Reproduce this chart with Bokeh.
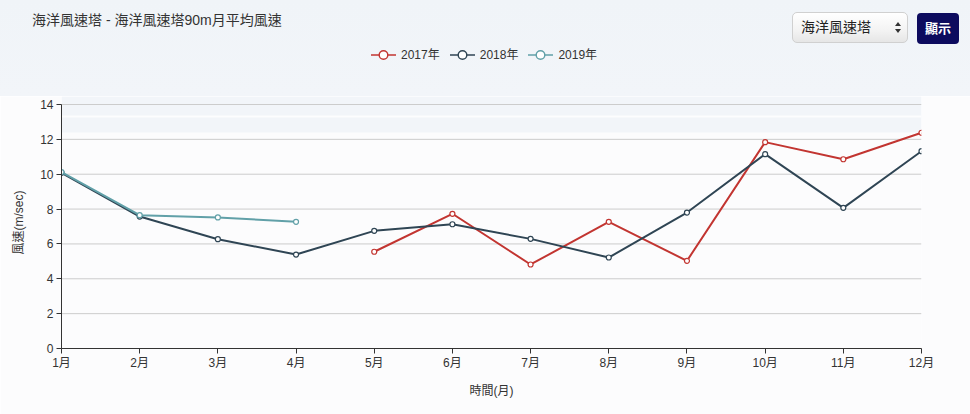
import numpy as np
from bokeh.plotting import figure
from bokeh.layouts import column
from bokeh.models import (Range1d, FixedTicker, BoxAnnotation, ColumnDataSource, Div)
from bokeh.embed import file_html
from bokeh.resources import INLINE

# ---------------- data ----------------
months = list(range(1, 13))
month_labels = [f"{m}月" for m in months]
y_ticks = [0, 2, 4, 6, 8, 10, 12, 14]
series_names = ["2017年", "2018年", "2019年"]
values_2017 = [None, None, None, None, 5.55, 7.73, 4.82, 7.27, 5.03, 11.84, 10.86, 12.38]
values_2018 = [10.08, 7.57, 6.27, 5.39, 6.75, 7.13, 6.29, 5.22, 7.80, 11.15, 8.07, 11.32]
values_2019 = [10.12, 7.65, 7.52, 7.27, None, None, None, None, None, None, None, None]
colors = ["#c23531", "#2f4554", "#61a0a8"]

title_text = "海洋風速塔 - 海洋風速塔90m月平均風速"
x_title = "時間(月)"
y_title = "風速(m/sec)"
select_text = "海洋風速塔"
button_text = "顯示"

FONT = "Liberation Sans, Noto Sans CJK TC"
CSS_FONT = "'Liberation Sans', 'Noto Sans CJK TC', sans-serif"
BAND = "#f2f5f9"
PAPER = "#fcfcfd"

W = 970
HEADER_H = 96

# ---------------- header: title, legend, controls ----------------
def legend_item(name, color):
    icon = (f'<svg width="25" height="14" style="display:block">'
            f'<line x1="0" y1="7" x2="25" y2="7" stroke="{color}" stroke-width="1.5"/>'
            f'<circle cx="12.5" cy="7" r="4.3" fill="#ffffff" stroke="{color}" stroke-width="1.4"/>'
            f'</svg>')
    return (f'<div style="display:flex;align-items:center;margin-right:10px">'
            f'{icon}<span style="margin-left:5px">{name}</span></div>')

legend_html = "".join(legend_item(n, c) for n, c in zip(series_names, colors))

header_html = f"""
<div style="position:relative;width:{W}px;height:{HEADER_H}px;overflow:hidden;
            background:linear-gradient(180deg,#f0f4f8 0%,{BAND} 100%);
            font-family:{CSS_FONT};color:#333333;">
  <div style="position:absolute;left:32px;top:11px;font-size:14px;line-height:18px;
              white-space:nowrap;">{title_text}</div>
  <div style="position:absolute;left:371px;top:48px;height:14px;display:flex;
              align-items:center;font-size:12px;line-height:14px;white-space:nowrap;">
    {legend_html}
  </div>
  <div style="position:absolute;left:792px;top:12px;width:116px;height:31px;
              box-sizing:border-box;border:1px solid #d0d0d0;border-radius:5px;
              background:linear-gradient(180deg,#ffffff 0%,#f3f3f3 60%,#e6e6e6 100%);">
    <div style="position:absolute;left:8px;top:0;line-height:29px;font-size:14px;
                color:#222222;white-space:nowrap;">{select_text}</div>
    <div style="position:absolute;left:102px;top:9px;width:0;height:0;
                border-left:3px solid transparent;border-right:3px solid transparent;
                border-bottom:4px solid #333333;"></div>
    <div style="position:absolute;left:102px;top:16px;width:0;height:0;
                border-left:3px solid transparent;border-right:3px solid transparent;
                border-top:4px solid #333333;"></div>
  </div>
  <div style="position:absolute;left:917px;top:13px;width:42px;height:31px;
              background:#0d0b5e;border-radius:4px;color:#ffffff;font-weight:bold;
              font-size:13px;line-height:31px;text-align:center;">{button_text}</div>
</div>
"""
hdr = Div(text=header_html, width=W, height=HEADER_H, margin=0)

# ---------------- main chart ----------------
px_per_unit = (348 - 104) / (y_ticks[-1] - y_ticks[0])
y_top = y_ticks[-1] + (104 - HEADER_H) / px_per_unit

p = figure(width=W, height=414 - HEADER_H, output_backend="svg",
           toolbar_location=None, title=None, tools="",
           x_range=Range1d(months[0], months[-1]),
           y_range=Range1d(y_ticks[0], y_top),
           min_border_left=61, min_border_right=W - 921,
           min_border_top=0, min_border_bottom=414 - 348,
           background_fill_color=PAPER, border_fill_color=PAPER,
           outline_line_color=None, margin=0)
p.grid.visible = False

# header band continuing into the top of the plot area
p.add_layout(BoxAnnotation(bottom=348 - 132, bottom_units="screen",
                           fill_color=BAND, fill_alpha=1, line_color=None,
                           level="image"))
p.add_layout(BoxAnnotation(bottom=348 - 117, top=348 - 115,
                           bottom_units="screen", top_units="screen",
                           fill_color="#ffffff", fill_alpha=0.8,
                           line_color=None, level="image"))

# horizontal gridlines
grid_src = ColumnDataSource(dict(x0=[months[0]] * len(y_ticks),
                                 x1=[months[-1]] * len(y_ticks),
                                 y=y_ticks))
p.segment(x0="x0", x1="x1", y0="y", y1="y", source=grid_src,
          line_color="#cccccc", line_width=1, level="underlay")

# axes
p.xaxis.ticker = FixedTicker(ticks=months)
p.xaxis.major_label_overrides = {m: l for m, l in zip(months, month_labels)}
p.yaxis.ticker = FixedTicker(ticks=y_ticks)
p.yaxis.bounds = (y_ticks[0], y_ticks[-1])
p.axis.minor_tick_line_color = None
p.axis.major_tick_in = 0
p.axis.major_tick_out = 5
p.axis.axis_line_color = "#333333"
p.axis.major_tick_line_color = "#333333"
p.axis.major_label_text_font_size = "12px"
p.axis.major_label_text_color = "#333333"
p.axis.major_label_text_font = FONT
p.xaxis.major_label_standoff = 2
p.yaxis.major_label_standoff = 3
p.xaxis.axis_label = x_title
p.yaxis.axis_label = y_title
p.axis.axis_label_text_font = FONT
p.axis.axis_label_text_font_size = "12px"
p.axis.axis_label_text_font_style = "normal"
p.axis.axis_label_text_color = "#333333"
p.xaxis.axis_label_standoff = 11
p.yaxis.axis_label_standoff = 11

# series
series_values = [values_2017, values_2018, values_2019]
for name, vals, color in zip(series_names, series_values, colors):
    y = np.array([np.nan if v is None else v for v in vals], dtype=float)
    src = ColumnDataSource(dict(x=months, y=y))
    p.line("x", "y", source=src, line_color=color, line_width=2)
    p.scatter("x", "y", source=src, size=5, fill_color="white",
              line_color=color, line_width=1.2)

layout = column(hdr, p, spacing=0)
open("out.html", "w").write(file_html(layout, INLINE))
